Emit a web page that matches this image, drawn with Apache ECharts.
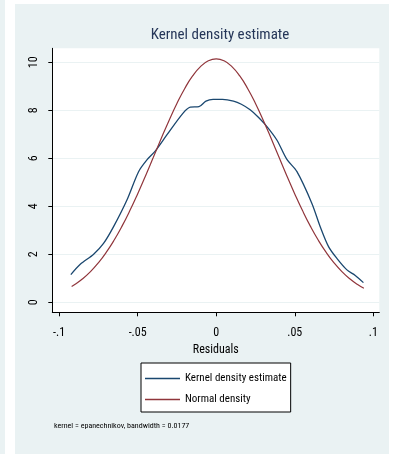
<!DOCTYPE html>
<html><head><meta charset="utf-8">
<script src="https://cdn.jsdelivr.net/npm/echarts@6/dist/echarts.min.js"></script>
<style>html,body{margin:0;padding:0;background:#fff}#c{width:396px;height:454px}</style>
</head><body><div id="c"></div>
<script>
// Kernel density estimate (x = residual, y = density)
const kdeX = [-0.0925,-0.0865,-0.078,-0.0717,-0.0653,-0.0568,-0.0494,-0.0441,-0.0388,-0.0314,-0.0212,-0.0165,-0.011,-0.0065,-0.002,0.004,0.011,0.016,0.0216,0.027,0.0323,0.0386,0.045,0.0514,0.0609,0.0662,0.0715,0.0768,0.0832,0.0885,0.0937];
const kdeY = [1.15,1.58,2.0,2.45,3.15,4.26,5.44,5.93,6.3,6.97,7.87,8.13,8.15,8.38,8.45,8.45,8.38,8.25,8.02,7.7,7.32,6.76,5.95,5.44,4.12,3.15,2.32,1.83,1.35,1.12,0.82];
// Normal density
const normX = [-0.092,-0.09,-0.085,-0.08,-0.075,-0.07,-0.065,-0.06,-0.055,-0.05,-0.045,-0.04,-0.035,-0.03,-0.025,-0.02,-0.015,-0.01,-0.005,0,0.005,0.01,0.015,0.02,0.025,0.03,0.035,0.04,0.045,0.05,0.055,0.06,0.065,0.07,0.075,0.08,0.085,0.09,0.094];
const normY = [0.655,0.737,0.978,1.277,1.641,2.076,2.583,3.162,3.809,4.515,5.264,6.041,6.82,7.577,8.282,8.908,9.428,9.816,10.058,10.14,10.058,9.816,9.428,8.908,8.282,7.577,6.82,6.041,5.264,4.515,3.809,3.162,2.583,2.076,1.641,1.277,0.978,0.737,0.581];
const xTicks = [-0.1,-0.05,0,0.05,0.1];
const xTickLabels = ['-.1','-.05','0','.05','.1'];
const yTicks = [0,2,4,6,8,10];
const seriesNames = ['Kernel density estimate','Normal density'];
const titleText = 'Kernel density estimate';
const xName = 'Residuals';
const noteText = 'kernel = epanechnikov, bandwidth = 0.0177';

const F = '"Roboto Condensed","Liberation Sans",Arial,sans-serif';
const chart = echarts.init(document.getElementById('c'), null, {renderer:'canvas'});
const zip = (a,b)=>a.map((v,i)=>[v,b[i]]);
chart.setOption({
  animation:false,
  backgroundColor:'#fff',
  graphic:[
    {type:'rect',z:-10,shape:{x:0,y:0,width:5,height:454},style:{fill:'#eaf2f3'}},
    {type:'rect',z:-10,shape:{x:15,y:4,width:374,height:450},style:{fill:'#eaf2f3'}},
    {type:'text',left:54,top:422,style:{text:noteText,font:'8px '+F,fill:'#000'}}
  ],
  title:{text:titleText,left:215,textAlign:'center',top:23,
    textStyle:{fontFamily:F,fontSize:15,fontWeight:'normal',color:'#253658'}},
  grid:{left:52.3,right:16.7,top:48.3,bottom:141.7,show:true,backgroundColor:'#fff',borderWidth:0,containLabel:false},
  xAxis:{type:'value',min:-0.1043,max:0.1038,
    name:xName,nameLocation:'middle',nameGap:21,
    nameTextStyle:{fontFamily:F,fontSize:12,color:'#000'},
    axisLine:{show:true,onZero:false,lineStyle:{color:'#000',width:1}},
    axisTick:{show:true,length:4,customValues:xTicks,lineStyle:{color:'#000'}},
    axisLabel:{customValues:xTicks,margin:15,fontFamily:F,fontSize:12,color:'#000',
      formatter:v=>{const i=xTicks.findIndex(t=>Math.abs(t-v)<1e-9);return i>=0?xTickLabels[i]:'';}},
    splitLine:{show:false}},
  yAxis:{type:'value',min:-0.417,max:10.58,
    axisLine:{show:true,onZero:false,lineStyle:{color:'#000',width:1}},
    axisTick:{show:true,length:4,customValues:yTicks,lineStyle:{color:'#000'}},
    axisLabel:{customValues:yTicks,rotate:90,margin:12,fontFamily:F,fontSize:12,color:'#000'},
    splitLine:{show:true,lineStyle:{color:'#eaf2f3',width:1}}},
  legend:{orient:'vertical',left:141,top:363,data:seriesNames,
    icon:'rect',itemWidth:35,itemHeight:1.5,itemGap:10,
    padding:[10,4,7,4],borderColor:'#000',borderWidth:1,backgroundColor:'#fff',
    textStyle:{fontFamily:F,fontSize:11,color:'#000'}},
  series:[
    {name:seriesNames[0],type:'line',data:zip(kdeX,kdeY),showSymbol:false,smooth:0.3,
      lineStyle:{color:'#1a476f',width:1.3},itemStyle:{color:'#1a476f'}},
    {name:seriesNames[1],type:'line',data:zip(normX,normY),showSymbol:false,smooth:true,
      lineStyle:{color:'#90353b',width:1.2},itemStyle:{color:'#90353b'}}
  ]
});
</script></body></html>
